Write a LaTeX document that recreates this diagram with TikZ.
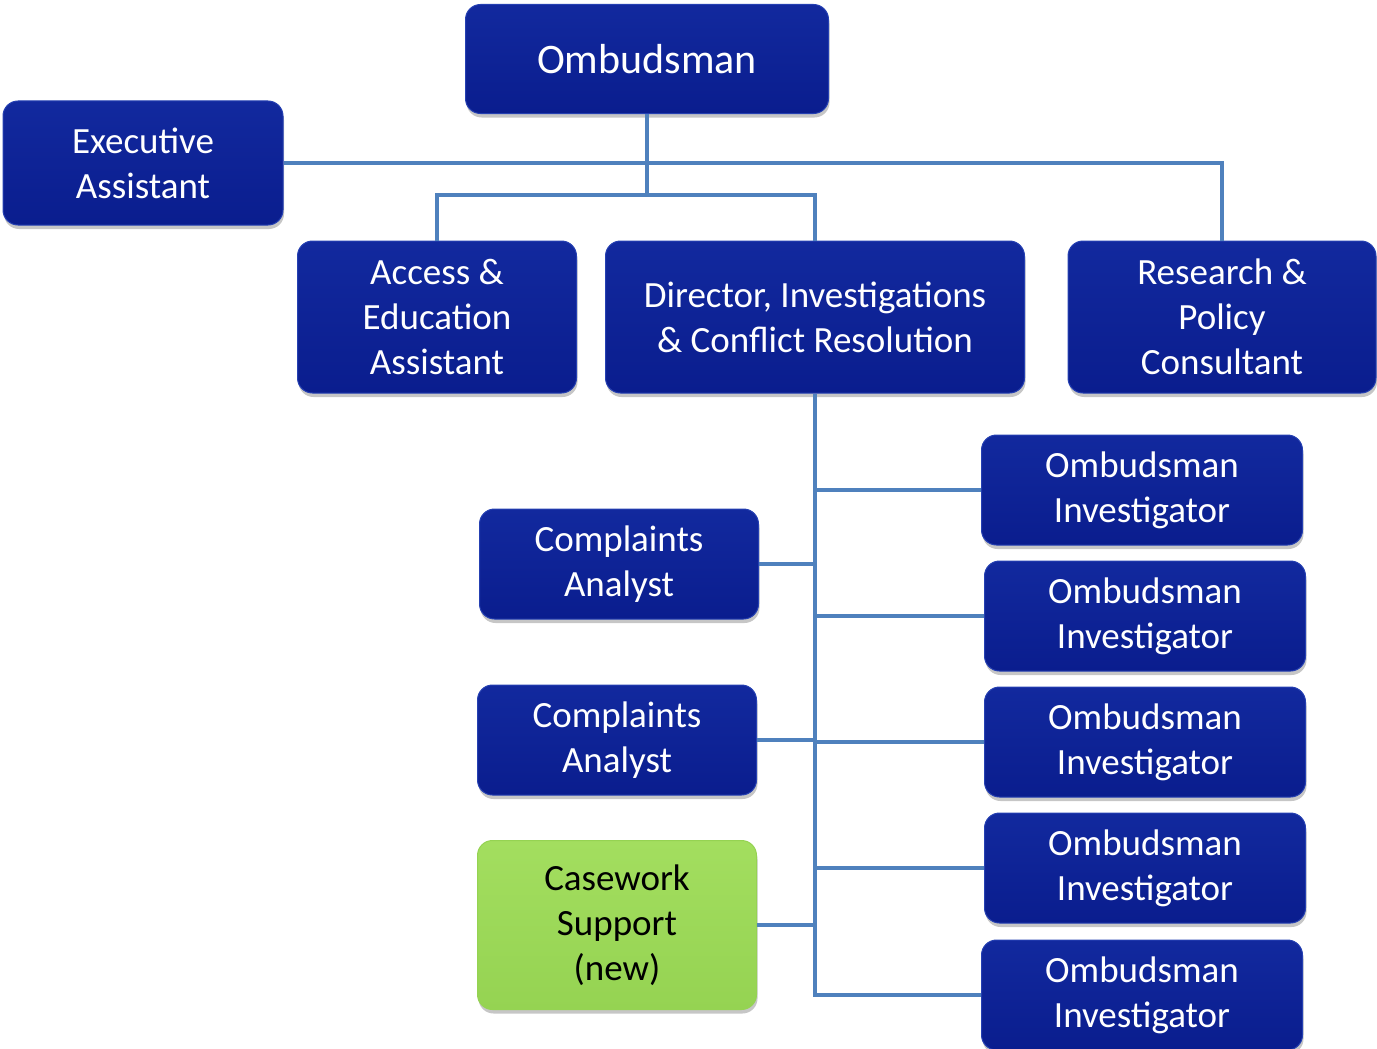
\documentclass[tikz,border=0pt]{standalone}
\usepackage{fontspec}
\setmainfont{Carlito}
\usetikzlibrary{shadows}
\definecolor{boxtop}{HTML}{12299E}
\definecolor{boxbot}{HTML}{0A1D8E}
\definecolor{boxedge}{HTML}{2540B2}
\definecolor{linkblue}{HTML}{4F81BD}
\definecolor{greentop}{HTML}{A3DE5F}
\definecolor{greenbot}{HTML}{95D352}
\begin{document}
\begin{tikzpicture}[x=1pt,y=-1pt,
  orgbox/.style={rounded corners=15pt, top color=boxtop, bottom color=boxbot, draw=boxedge, line width=1pt,
    text=white, align=center, inner sep=0pt, font=\fontsize{37}{45}\selectfont,
    drop shadow={shadow xshift=1pt, shadow yshift=-4pt, opacity=0.45}},
  newbox/.style={orgbox, top color=greentop, bottom color=greenbot, draw=greenbot, text=black},
  link/.style={draw=linkblue, line width=4pt}]
\useasboundingbox (0,0) rectangle (1377,1049);

\node[orgbox, minimum width=363pt, minimum height=109pt, font=\fontsize{42}{50}\selectfont] (omb) at (647,59) {Ombudsman};
\node[orgbox, minimum width=280pt, minimum height=124pt] (exec) at (143,163) {Executive\\Assistant};
\node[orgbox, minimum width=279pt, minimum height=152pt] (acc) at (437,317) {Access \&\\Education\\Assistant};
\node[orgbox, minimum width=419pt, minimum height=152pt] (dir) at (815,317) {Director, Investigations\\\& Conflict Resolution};
\node[orgbox, minimum width=308pt, minimum height=152pt] (res) at (1222,317) {Research \&\\Policy\\Consultant};

\node[orgbox, minimum width=321pt, minimum height=110pt] (oi1) at (1142,490) {Ombudsman\\Investigator};
\node[orgbox, minimum width=321pt, minimum height=110pt] (oi2) at (1145,616) {Ombudsman\\Investigator};
\node[orgbox, minimum width=321pt, minimum height=110pt] (oi3) at (1145,742) {Ombudsman\\Investigator};
\node[orgbox, minimum width=321pt, minimum height=110pt] (oi4) at (1145,868) {Ombudsman\\Investigator};
\node[orgbox, minimum width=321pt, minimum height=110pt] (oi5) at (1142,995) {Ombudsman\\Investigator};

\node[orgbox, minimum width=279pt, minimum height=110pt] (ca1) at (619,564) {Complaints\\Analyst};
\node[orgbox, minimum width=279pt, minimum height=110pt] (ca2) at (617,740) {Complaints\\Analyst};
\node[newbox, minimum width=279pt, minimum height=169pt] (cw) at (617,925) {Casework\\Support\\(new)};

\coordinate (bus) at (647,195);

\draw[link] (omb.south) -- (bus);
\draw[link] (exec.east) -| (res.north);
\draw[link] (acc.north) |- (bus) -| (dir.north);
\draw[link] (dir.south) |- (oi5.west);
\draw[link] (oi1.west) -- (oi1.west -| dir.south);
\draw[link] (oi2.west) -- (oi2.west -| dir.south);
\draw[link] (oi3.west) -- (oi3.west -| dir.south);
\draw[link] (oi4.west) -- (oi4.west -| dir.south);
\draw[link] (ca1.east) -- (ca1.east -| dir.south);
\draw[link] (ca2.east) -- (ca2.east -| dir.south);
\draw[link] (cw.east) -- (cw.east -| dir.south);
\end{tikzpicture}
\end{document}
